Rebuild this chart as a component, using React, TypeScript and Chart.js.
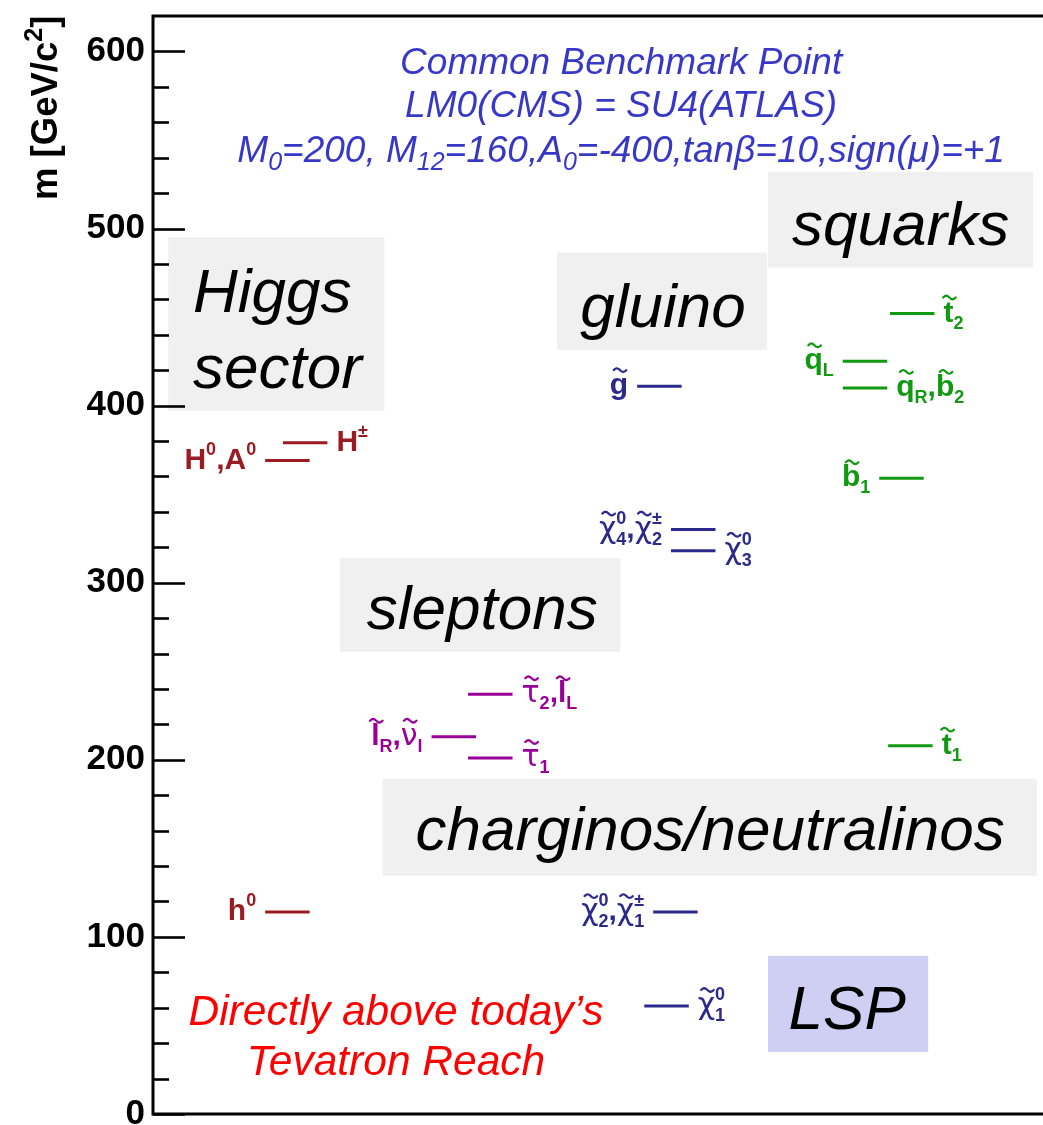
import React, { useEffect, useRef } from 'react';
import { Chart, registerables } from 'chart.js';
Chart.register(...registerables);

const FONT = "'Liberation Sans', Arial, Helvetica, sans-serif";
const GREEK_FONT = "'DejaVu Sans', 'Liberation Sans', sans-serif";

// ---- axis ----
const yTickValues = [0, 100, 200, 300, 400, 500, 600];
const yMinorStep = 20;
const yMax = 620;
const yAxisTitle = 'm [GeV/c^{2}]';

// ---- mass levels (GeV/c^2) ----
const higgsLabels = ['h^{0}', 'H^{0},A^{0}', 'H^{±}'];
const higgsMasses = [114, 369, 379];
const higgsColumns = [12.6, 12.6, 14.6];
const higgsSides = ['left', 'left', 'right'];

const sleptonLabels = ['~τ_{2},~l_{L}', '~l_{R},~ν_{l}', '~τ_{1}'];
const sleptonMasses = [237, 213, 201];
const sleptonColumns = [35.4, 31.3, 35.4];
const sleptonSides = ['right', 'left', 'right'];

const gluinoLabels = ['~g'];
const gluinoMasses = [411];
const gluinoColumns = [54.4];
const gluinoSides = ['left'];

const gauginoLabels = ['~χ^{0}_{4},~χ^{±}_{2}', '~χ^{0}_{3}', '~χ^{0}_{2},~χ^{±}_{1}', '~χ^{0}_{1}'];
const gauginoMasses = [330, 318, 114, 61];
const gauginoColumns = [58.2, 58.2, 56.2, 55.2];
const gauginoSides = ['left', 'right', 'left', 'right'];

const squarkLabels = ['~t_{2}', '~q_{L}', '~q_{R},~b_{2}', '~b_{1}', '~t_{1}'];
const squarkMasses = [452, 425, 410, 359, 208];
const squarkColumns = [82.8, 77.5, 77.5, 81.6, 82.6];
const squarkSides = ['right', 'left', 'right', 'left', 'right'];

// ---- texts ----
const titleLines = ['Common Benchmark Point', 'LM0(CMS) = SU4(ATLAS)', 'M_{0}=200, M_{12}=160,A_{0}=-400,tanβ=10,sign(μ)=+1'];
const noteLines = ['Directly above today’s', 'Tevatron Reach'];

const LINE_LEN = 5;

const groups = [
  { labels: higgsLabels, masses: higgsMasses, columns: higgsColumns, sides: higgsSides, color: '#9b1b22' },
  { labels: sleptonLabels, masses: sleptonMasses, columns: sleptonColumns, sides: sleptonSides, color: '#990099' },
  { labels: gluinoLabels, masses: gluinoMasses, columns: gluinoColumns, sides: gluinoSides, color: '#2b2a8c' },
  { labels: gauginoLabels, masses: gauginoMasses, columns: gauginoColumns, sides: gauginoSides, color: '#2b2a8c' },
  { labels: squarkLabels, masses: squarkMasses, columns: squarkColumns, sides: squarkSides, color: '#119911' },
];

// category boxes (data units)
const boxes = [
  { x0: 1.7, x1: 26.0, y0: 397, y1: 495, fill: '#f0f0f0', lines: ['Higgs', 'sector'], tx: 4.5, ty: [453, 410], align: 'left' },
  { x0: 45.4, x1: 69.0, y0: 431.5, y1: 486.5, fill: '#f0f0f0', lines: ['gluino'], tx: 57.3, ty: [444.5], align: 'center' },
  { x0: 69.1, x1: 98.9, y0: 478, y1: 532, fill: '#f0f0f0', lines: ['squarks'], tx: 84.0, ty: [490.5], align: 'center' },
  { x0: 21.0, x1: 52.5, y0: 261, y1: 314, fill: '#f0f0f0', lines: ['sleptons'], tx: 37.0, ty: [274], align: 'center' },
  { x0: 25.8, x1: 99.3, y0: 134.5, y1: 189.3, fill: '#f0f0f0', lines: ['charginos/neutralinos'], tx: 62.6, ty: [149], align: 'center' },
  { x0: 69.1, x1: 87.1, y0: 35, y1: 89.3, fill: '#cfcff3', lines: ['LSP'], tx: 78.0, ty: [48], align: 'center' },
];

type Part = { base: string; tilde?: boolean; sup?: string; sub?: string };

function parseRich(s: string): Part[] {
  const parts: Part[] = [];
  let i = 0;
  let pendingTilde = false;
  const chars = Array.from(s);
  while (i < chars.length) {
    const c = chars[i];
    if (c === '~') { pendingTilde = true; i++; continue; }
    if ((c === '^' || c === '_') && chars[i + 1] === '{') {
      let end = i + 2;
      while (end < chars.length && chars[end] !== '}') end++;
      const txt = chars.slice(i + 2, end).join('');
      let last = parts[parts.length - 1];
      if (!last) { last = { base: '' }; parts.push(last); }
      if (c === '^') last.sup = txt; else last.sub = txt;
      i = end + 1;
      continue;
    }
    if (pendingTilde) {
      parts.push({ base: c, tilde: true });
      pendingTilde = false;
    } else {
      const last = parts[parts.length - 1];
      if (last && !last.tilde && !last.sup && !last.sub) last.base += c;
      else parts.push({ base: c });
    }
    i++;
  }
  return parts;
}

function drawTilde(ctx: CanvasRenderingContext2D, cx: number, cy: number, w: number, a: number, lw: number, color: string) {
  ctx.save();
  ctx.strokeStyle = color;
  ctx.lineWidth = lw;
  ctx.lineCap = 'round';
  ctx.beginPath();
  const n = 16;
  for (let k = 0; k <= n; k++) {
    const t = k / n;
    const px = cx - w / 2 + t * w;
    const py = cy - a * Math.sin(2 * Math.PI * t);
    if (k === 0) ctx.moveTo(px, py); else ctx.lineTo(px, py);
  }
  ctx.stroke();
  ctx.restore();
}

interface RichOpts {
  size: number; small: number; weight: string; style: string; color: string;
  align: 'left' | 'right' | 'center'; supRise: number; subDrop: number; greek?: boolean;
}

const isGreek = (s: string) => /^[χτν]$/.test(s);

function drawRich(ctx: CanvasRenderingContext2D, text: string, x: number, baseY: number, o: RichOpts) {
  const parts = parseRich(text);
  const bigFor = (p: Part) =>
    o.greek && isGreek(p.base)
      ? `${o.style} normal ${o.size}px ${GREEK_FONT}`
      : `${o.style} ${o.weight} ${o.size}px ${FONT}`;
  const sm = `${o.style} ${o.weight} ${o.small}px ${FONT}`;
  const widths = parts.map((p) => {
    ctx.font = bigFor(p);
    const wb = ctx.measureText(p.base).width;
    ctx.font = sm;
    const ws = Math.max(p.sup ? ctx.measureText(p.sup).width : 0, p.sub ? ctx.measureText(p.sub).width : 0);
    return { wb, ws };
  });
  const total = widths.reduce((s, w) => s + w.wb + w.ws, 0);
  let cx = o.align === 'left' ? x : o.align === 'right' ? x - total : x - total / 2;
  ctx.fillStyle = o.color;
  ctx.textAlign = 'left';
  ctx.textBaseline = 'alphabetic';
  parts.forEach((p, i) => {
    const w = widths[i];
    ctx.font = bigFor(p);
    ctx.fillText(p.base, cx, baseY);
    if (p.tilde) drawTilde(ctx, cx + w.wb / 2 + 1, baseY - o.size * 0.8, o.size * 0.42, o.size * 0.06, 2.2, o.color);
    ctx.font = sm;
    if (p.sup) ctx.fillText(p.sup, cx + w.wb, baseY - o.supRise);
    if (p.sub) ctx.fillText(p.sub, cx + w.wb, baseY + o.subDrop);
    cx += w.wb + w.ws;
  });
  return total;
}

const overlayPlugin = {
  id: 'overlay',
  beforeDatasetsDraw(chart: any) {
    const { ctx, scales } = chart;
    const xs = scales.x, ys = scales.y;
    ctx.save();
    boxes.forEach((b) => {
      const px0 = xs.getPixelForValue(b.x0), px1 = xs.getPixelForValue(b.x1);
      const py0 = ys.getPixelForValue(b.y1), py1 = ys.getPixelForValue(b.y0);
      ctx.fillStyle = b.fill;
      ctx.fillRect(px0, py0, px1 - px0, py1 - py0);
    });
    ctx.restore();
  },
  afterDraw(chart: any) {
    const { ctx, chartArea, scales } = chart;
    const xs = scales.x, ys = scales.y;
    ctx.save();
    // frame
    ctx.strokeStyle = '#000';
    ctx.lineWidth = 3;
    ctx.beginPath();
    ctx.moveTo(chart.width + 5, chartArea.top);
    ctx.lineTo(chartArea.left, chartArea.top);
    ctx.lineTo(chartArea.left, chartArea.bottom);
    ctx.lineTo(chart.width + 5, chartArea.bottom);
    ctx.stroke();
    // ticks
    ctx.lineWidth = 2.6;
    for (let v = 0; v <= yTickValues[yTickValues.length - 1]; v += yMinorStep) {
      const py = Math.round(ys.getPixelForValue(v)) + 0.5;
      const len = v % 100 === 0 ? 32 : 16;
      ctx.beginPath();
      ctx.moveTo(chartArea.left, py);
      ctx.lineTo(chartArea.left + len, py);
      ctx.stroke();
    }
    // y title
    ctx.save();
    ctx.translate(57, 200);
    ctx.rotate(-Math.PI / 2);
    drawRich(ctx, yAxisTitle, 0, 0, { size: 36.5, small: 25, weight: 'bold', style: 'normal', color: '#000', align: 'left', supRise: 15, subDrop: 7 });
    ctx.restore();

    // box texts
    boxes.forEach((b) => {
      b.lines.forEach((line, k) => {
        ctx.font = `italic 62px ${FONT}`;
        ctx.fillStyle = '#000';
        ctx.textAlign = b.align as CanvasTextAlign;
        ctx.textBaseline = 'alphabetic';
        ctx.fillText(line, xs.getPixelForValue(b.tx), ys.getPixelForValue(b.ty[k]));
      });
    });

    // title
    const titleX = xs.getPixelForValue(52.6);
    const titleYs = [587, 563, 537.5];
    titleLines.forEach((t, k) => {
      drawRich(ctx, t, titleX, ys.getPixelForValue(titleYs[k]), { size: 37, small: 25, weight: 'normal', style: 'italic', color: '#3737c8', align: 'center', supRise: 14, subDrop: 8 });
    });

    // note
    const noteX = xs.getPixelForValue(27.3);
    const noteYs = [50.3, 22];
    noteLines.forEach((t, k) => {
      ctx.font = `italic 42.5px ${FONT}`;
      ctx.fillStyle = '#ff0000';
      ctx.textAlign = 'center';
      ctx.textBaseline = 'alphabetic';
      ctx.fillText(t, noteX, ys.getPixelForValue(noteYs[k]));
    });

    // particle labels
    groups.forEach((g) => {
      g.masses.forEach((m, i) => {
        const side = g.sides[i];
        const py = ys.getPixelForValue(m);
        const gap = 9;
        const px = side === 'left' ? xs.getPixelForValue(g.columns[i]) - gap : xs.getPixelForValue(g.columns[i] + LINE_LEN) + gap;
        drawRich(ctx, g.labels[i], px, py + 8, { size: 30, small: 18, weight: 'bold', style: 'normal', color: g.color, align: side === 'left' ? 'right' : 'left', supRise: 14, subDrop: 7, greek: true });
      });
    });
    ctx.restore();
  },
};

export default function App() {
  const canvasRef = useRef<HTMLCanvasElement | null>(null);
  useEffect(() => {
    if (!canvasRef.current) return;
    const datasets: any[] = [];
    groups.forEach((g) => {
      g.masses.forEach((m, i) => {
        datasets.push({
          label: g.labels[i].replace(/[~{}^_]/g, ''),
          data: [{ x: g.columns[i], y: m }, { x: g.columns[i] + LINE_LEN, y: m }],
          borderColor: g.color,
          backgroundColor: g.color,
          borderWidth: 3,
          pointRadius: 0,
          showLine: true,
          fill: false,
        });
      });
    });
    const chart = new Chart(canvasRef.current, {
      type: 'scatter',
      data: { datasets },
      options: {
        animation: false,
        responsive: true,
        maintainAspectRatio: false,
        layout: { padding: { top: 16, bottom: 11, left: 0, right: 0 } },
        plugins: { legend: { display: false }, tooltip: { enabled: false } },
        scales: {
          x: { type: 'linear', min: 0, max: 100, display: false },
          y: {
            type: 'linear', min: 0, max: yMax,
            afterBuildTicks: (s: any) => { s.ticks = yTickValues.map((v) => ({ value: v })); },
            afterFit: (s: any) => { s.width = 153; s.paddingTop = 0; s.paddingBottom = 0; },
            ticks: { font: { family: FONT, size: 35, weight: 'bold' }, color: '#000', padding: 8 },
            grid: { display: false, drawTicks: false },
            border: { display: false },
          },
        },
      } as any,
      plugins: [overlayPlugin],
    });
    return () => chart.destroy();
  }, []);
  return (
    <div style={{ position: 'fixed', left: 0, top: 0, width: 1043, height: 1125, background: '#fff' }}>
      <canvas ref={canvasRef} />
    </div>
  );
}
